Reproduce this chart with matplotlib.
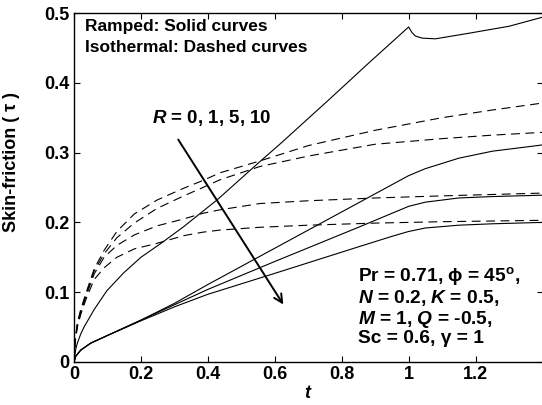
import numpy as np
import matplotlib
matplotlib.use("Agg")
import matplotlib.pyplot as plt

plt.rcParams['font.family'] = ['Liberation Sans', 'DejaVu Sans']
plt.rcParams['font.weight'] = 'bold'
plt.rcParams['axes.labelweight'] = 'bold'
plt.rcParams['mathtext.fontset'] = 'custom'
plt.rcParams['mathtext.rm'] = 'Liberation Sans:bold'
plt.rcParams['mathtext.it'] = 'Liberation Sans:italic:bold'
plt.rcParams['mathtext.bf'] = 'Liberation Sans:bold'

# ramped plate (solid curves), R = 0, 1, 5, 10
t_r0 = [0, 0.005, 0.01, 0.02, 0.03, 0.06, 0.098, 0.149, 0.2, 0.26, 0.328, 0.427, 0.56, 0.615,
        0.76, 0.88, 1.0, 1.01, 1.02, 1.04, 1.08, 1.18, 1.3, 1.4]
tau_r0 = [0, 0.018, 0.027, 0.04, 0.05, 0.075, 0.102, 0.128, 0.15, 0.17, 0.194, 0.232, 0.289, 0.312,
          0.375, 0.428, 0.48, 0.472, 0.467, 0.464, 0.463, 0.471, 0.481, 0.494]

t_r = [0, 0.005, 0.02, 0.05, 0.1, 0.2, 0.3, 0.4, 0.6, 0.85, 0.95, 1.0, 1.05, 1.15, 1.25, 1.4]
tau_r1 = [0, 0.008, 0.017, 0.027, 0.038, 0.06, 0.084, 0.111, 0.163, 0.228, 0.254, 0.267, 0.277, 0.292, 0.302, 0.311]
tau_r5 = [0, 0.008, 0.017, 0.027, 0.038, 0.06, 0.082, 0.104, 0.144, 0.193, 0.213, 0.223, 0.229, 0.235, 0.237, 0.239]
tau_r10 = [0, 0.008, 0.017, 0.027, 0.038, 0.059, 0.079, 0.097, 0.127, 0.165, 0.18, 0.187, 0.192, 0.196, 0.198, 0.2]

# isothermal plate (dashed curves)
t_i = [0, 0.003, 0.01, 0.02, 0.036, 0.06, 0.09, 0.128, 0.18, 0.248, 0.328, 0.385, 0.436, 0.555,
       0.7, 0.9, 1.1, 1.25, 1.4]
tau_i0 = [0, 0.03, 0.056, 0.075, 0.099, 0.133, 0.16, 0.187, 0.212, 0.232, 0.249, 0.26, 0.271, 0.288,
          0.31, 0.332, 0.35, 0.361, 0.371]
tau_i1 = [0, 0.029, 0.054, 0.073, 0.097, 0.13, 0.155, 0.178, 0.199, 0.22, 0.238, 0.25, 0.261, 0.28,
          0.295, 0.312, 0.32, 0.325, 0.329]
tau_i5 = [0, 0.028, 0.052, 0.07, 0.094, 0.126, 0.15, 0.167, 0.182, 0.195, 0.205, 0.213, 0.218, 0.227,
          0.231, 0.235, 0.238, 0.24, 0.242]
tau_i10 = [0, 0.027, 0.05, 0.068, 0.09, 0.118, 0.135, 0.15, 0.162, 0.17, 0.181, 0.186, 0.189, 0.193,
           0.196, 0.199, 0.201, 0.202, 0.203]

fig = plt.figure(figsize=(5.42, 4.05), dpi=100)
ax = fig.add_axes([74/542, 43/405, 468.5/542, 349/405])

lw = 0.8
ax.plot(t_r0, tau_r0, color='k', lw=lw)
for tau in (tau_r1, tau_r5, tau_r10):
    ax.plot(t_r, tau, color='k', lw=lw)
for tau in (tau_i0, tau_i1, tau_i5, tau_i10):
    ax.plot(t_i, tau, color='k', lw=lw, linestyle=(0, (8, 5)))

ax.annotate('', xy=(0.63, 0.079), xytext=(0.307, 0.322),
            arrowprops=dict(arrowstyle='->', color='k', lw=1.4, mutation_scale=15))
ax.text(0.233, 0.35, r'$R$ = 0, 1, 5, 10', fontsize=13.5, va='center', ha='left')
ax.text(0.033, 0.48, 'Ramped: Solid curves', fontsize=12.5, va='center')
ax.text(0.033, 0.45, 'Isothermal: Dashed curves', fontsize=12.5, va='center')
ax.text(0.848, 0.08,
        'Pr = 0.71, \u03d5 = 45$^{\\rm o}$,\n$N$ = 0.2, $K$ = 0.5,\n$M$ = 1, $Q$ = -0.5,\nSc = 0.6, \u03b3 = 1',
        fontsize=13.8, va='center', ha='left', linespacing=1.05)

ax.set_xlim(0, 1.4)
ax.set_ylim(0, 0.5)
ax.set_xticks([0, 0.2, 0.4, 0.6, 0.8, 1, 1.2])
ax.set_xticklabels(['0', '0.2', '0.4', '0.6', '0.8', '1', '1.2'])
ax.set_yticks([0, 0.1, 0.2, 0.3, 0.4, 0.5])
ax.set_yticklabels(['0', '0.1', '0.2', '0.3', '0.4', '0.5'])
ax.tick_params(direction='in', top=True, right=True, length=4, width=0.8, labelsize=13, pad=3)
for s in ax.spines.values():
    s.set_linewidth(1.0)
ax.set_xlabel('$t$', fontsize=13, labelpad=1)
ax.set_ylabel('Skin-friction ( \u03c4 )', fontsize=13)
ax.yaxis.set_label_coords(-0.116, 0.573)

fig.savefig('out.png', dpi=100)
